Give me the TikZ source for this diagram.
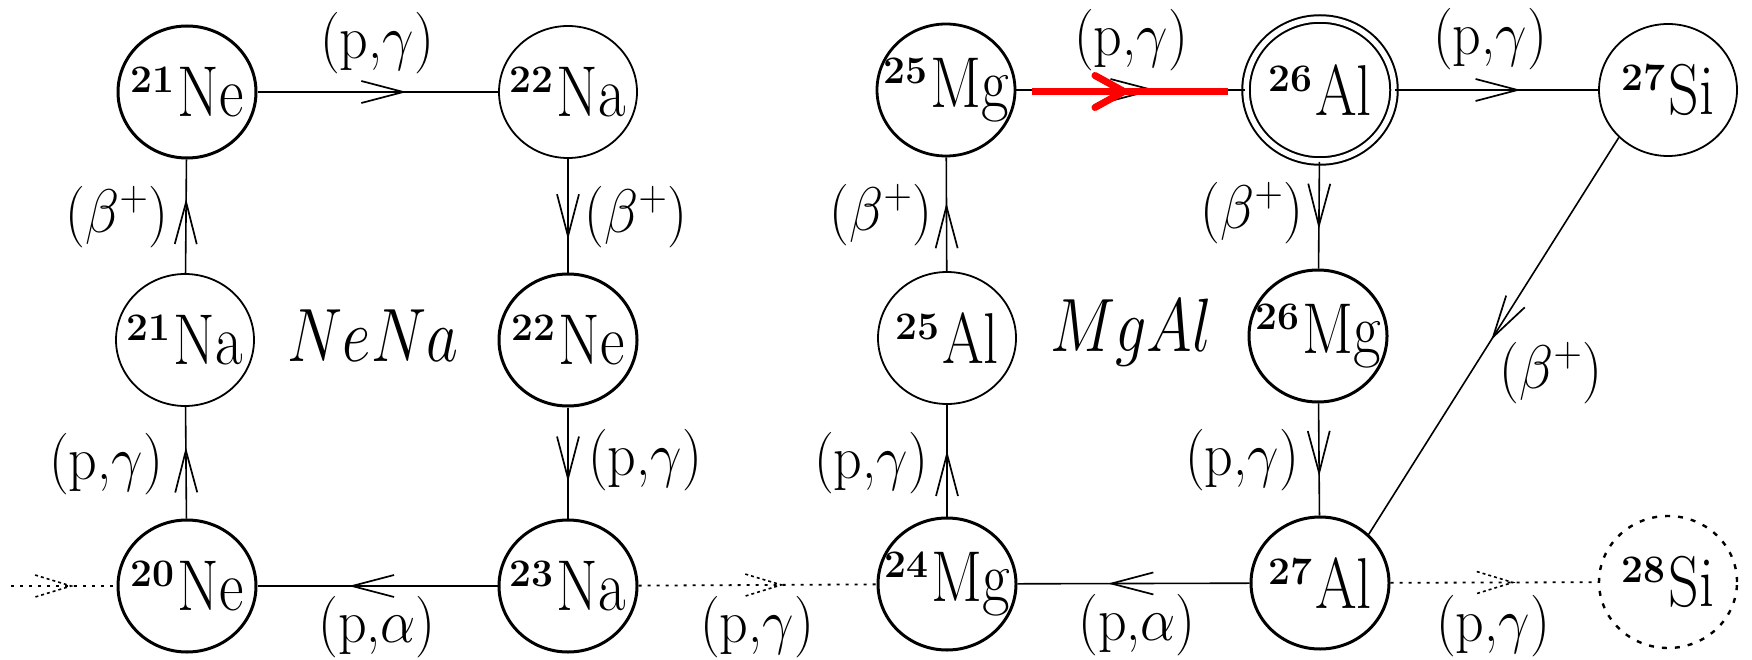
\RequirePackage{fix-cm}
\documentclass[tikz,border=0pt]{standalone}
\usepackage{graphicx}
\usetikzlibrary{arrows.meta,decorations.markings,shapes.geometric}
\newcommand{\iso}[2]{\raisebox{24pt}{\fontsize{39}{39}\selectfont\bfseries #1}\hspace{3pt}\scalebox{1}[1.2]{\fontsize{60}{60}\selectfont #2}}
\newcommand{\rlab}[1]{\scalebox{1}[1.1]{#1}}
\newcommand{\cyc}[1]{\scalebox{1}[1.22]{\fontsize{62}{62}\selectfont #1}}
\tikzset{
 nuc/.style={ellipse, minimum width=138pt, minimum height=132pt, inner sep=0pt, draw, line width=3pt},
 nucthin/.style={nuc, line width=1.8pt},
 nucdouble/.style={nuc, minimum width=148pt, minimum height=142pt, line width=2pt, double, double distance=5.5pt},
 nucdot/.style={nuc, line width=2.4pt, dash pattern=on 5pt off 8pt},
 elt/.style={inner sep=0pt},
 lab/.style={font=\fontsize{56}{56}\selectfont, inner sep=0pt},
 rx/.style={line width=1.6pt},
 ah/.style={postaction={decorate,decoration={markings,mark=at position #1 with {\arrow{Straight Barb[length=42pt,width=22pt,line width=1.7pt]}}}}},
 dah/.style={postaction={decorate,decoration={markings,mark=at position #1 with {\draw[line width=1.6pt,dash pattern=on 3pt off 3pt] (-36pt,11pt) -- (0pt,0pt) -- (-36pt,-11pt);}}}},
 redah/.style={postaction={decorate,decoration={markings,mark=at position #1 with {\arrow{Straight Barb[length=29pt,width=32pt,line width=7pt,round]}}}}},
 dotline/.style={line width=1.8pt, dash pattern=on 3pt off 6pt},
}
\begin{document}
\begin{tikzpicture}[x=1pt,y=-1pt]
\path[use as bounding box, fill=white] (0,0) rectangle (1752,660);
% nuclei
\node[nuc, label={[elt]center:{\iso{21}{Ne}}}] (ne21) at (187,92) {};
\node[nucthin, label={[elt]center:{\iso{22}{Na}}}] (na22) at (568,92) {};
\node[nucthin, label={[elt]center:{\iso{21}{Na}}}] (na21) at (185,340) {};
\node[nuc, label={[elt]center:{\iso{22}{Ne}}}] (ne22) at (568,340) {};
\node[nuc, label={[elt]center:{\iso{20}{Ne}}}] (ne20) at (187,586) {};
\node[nuc, label={[elt]center:{\iso{23}{Na}}}] (na23) at (568,586) {};
\node[nuc, line width=2.8pt, label={[elt]center:{\iso{25}{Mg}}}] (mg25) at (946,90) {};
\node[nucdouble, label={[elt]center:{\iso{26}{Al}}}] (al26) at (1320,90) {};
\node[nucthin, label={[elt]center:{\iso{27}{Si}}}] (si27) at (1668,90) {};
\node[nucthin, label={[elt]center:{\iso{25}{Al}}}] (al25) at (947,338) {};
\node[nuc, label={[elt]center:{\iso{26}{Mg}}}] (mg26) at (1318,336) {};
\node[nuc, label={[elt]center:{\iso{24}{Mg}}}] (mg24) at (947,584) {};
\node[nuc, label={[elt]center:{\iso{27}{Al}}}] (al27) at (1320,583) {};
\node[nucdot, label={[elt]center:{\iso{28}{Si}}}] (si28) at (1668,582) {};
% cycle names
\node[elt] (nena) at (373,336) {\cyc{$NeNa$}};
\node[elt] (mgal) at (1131,333) {\cyc{$MgAl$}};
% reactions NeNa
\draw[rx, ah=0.62] (ne21) -- (na22);
\draw[rx, ah=0.655] (na21) -- (ne21);
\draw[rx, ah=0.71] (na22) -- (ne22);
\draw[rx, ah=0.64] (ne20) -- (na21);
\draw[rx, ah=0.67] (ne22) -- (na23);
\draw[rx, ah=0.62] (na23) -- (ne20);
\coordinate (lstart) at (11,586);
\draw[dotline, dah=0.57] (lstart) -- (ne20);
\draw[dotline, dah=0.6] (na23) -- (mg24);
% reactions MgAl
\draw[rx, ah=0.59] (mg24) -- (al25);
\draw[rx, ah=0.6] (al25) -- (mg25);
\draw[rx, ah=0.61] (mg25) -- (al26);
\draw[rx, ah=0.62] (al26) -- (si27);
\draw[rx, ah=0.63] (al26) -- (mg26);
\draw[rx, ah=0.65] (mg26) -- (al27);
\draw[rx, ah=0.51] (si27.224) -- (al27.45);
\draw[rx, ah=0.61] (al27) -- (mg24);
\draw[dotline, dah=0.59] (al27) -- (si28);
% red highlight
\coordinate (r1) at (1032,91.5);
\coordinate (r2) at (1228,91.5);
\draw[red, line width=7pt, redah=0.487] (r1) -- (r2);
% labels
\node[lab] (l1) at (377,43) {\rlab{(p,$\gamma$)}};
\node[lab] (l2) at (117,217) {\rlab{($\beta^+$)}};
\node[lab] (l3) at (636,217) {\rlab{($\beta^+$)}};
\node[lab] (l4) at (106,464) {\rlab{(p,$\gamma$)}};
\node[lab] (l5) at (645,460) {\rlab{(p,$\gamma$)}};
\node[lab] (l6) at (377,627) {\rlab{(p,$\alpha$)}};
\node[lab] (l7) at (757,627) {\rlab{(p,$\gamma$)}};
\node[lab] (l8) at (1131,40) {\rlab{(p,$\gamma$)}};
\node[lab] (l9) at (1490,39) {\rlab{(p,$\gamma$)}};
\node[lab] (l10) at (881,215) {\rlab{($\beta^+$)}};
\node[lab] (l11) at (1252,213) {\rlab{($\beta^+$)}};
\node[lab] (l12) at (1551,373) {\rlab{($\beta^+$)}};
\node[lab] (l13) at (871,463) {\rlab{(p,$\gamma$)}};
\node[lab] (l14) at (1242,460) {\rlab{(p,$\gamma$)}};
\node[lab] (l15) at (1137,625) {\rlab{(p,$\alpha$)}};
\node[lab] (l16) at (1493,626) {\rlab{(p,$\gamma$)}};
\end{tikzpicture}
\end{document}
